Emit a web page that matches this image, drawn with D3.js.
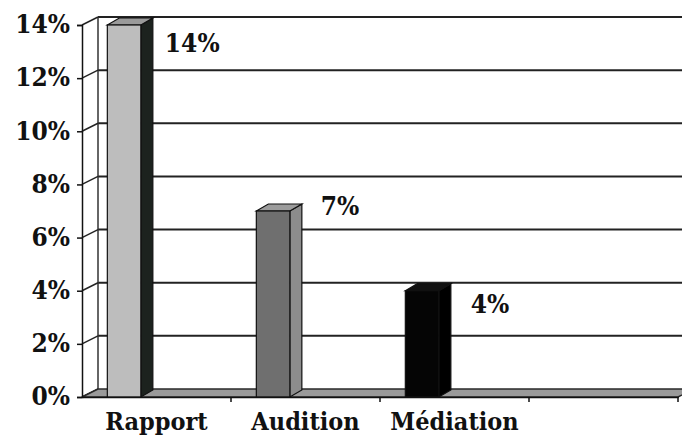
<!DOCTYPE html>
<html>
<head>
<meta charset="utf-8">
<script src="https://cdnjs.cloudflare.com/ajax/libs/d3/7.8.5/d3.min.js"></script>
<style>
    body { margin: 0; background: #fff; }
</style>
</head>
<body>
<div id="chart"></div>
<script>
var categories = ["Rapport", "Audition", "Médiation", ""];
var values = [0.14, 0.07, 0.04];
var tickValues = [0, 0.02, 0.04, 0.06, 0.08, 0.10, 0.12, 0.14];
// label nudges [dx, dy] from the bar's top right corner
var labelNudge = [[12, 27], [19, 4], [20, 22]];

var chart_width = 682;
var chart_height = 437;
var font = "'DejaVu Serif Condensed', 'DejaVu Serif', serif";
var frontColors = ["#bdbdbd", "#6f6f6f", "#050505"];
var sideColors = ["#1c221e", "#8c8c8c", "#000000"];
var topColors = ["#9a9a9a", "#9c9c9c", "#111111"];

// wall depth and bar depth
var wdx = 16, wdy = -8;
var bdx = 12, bdy = -7;

var x = d3.scaleBand()
        .domain(categories)
        .range([82, 678]);
var y = d3.scaleLinear()
        .domain([0, 0.14])
        .range([397, 25]);

var svg = d3.select("#chart")
        .append("svg")
        .attr("width", chart_width)
        .attr("height", chart_height);

function pts(a) {
    return a.map(function (p) { return p.join(","); }).join(" ");
}

var x0 = x.range()[0], x1 = x.range()[1];

//Back wall gridlines
svg.selectAll("line.grid")
        .data(tickValues.slice(1))
        .enter()
        .append("line")
        .attr("class", "grid")
        .attr("x1", x0 + wdx)
        .attr("x2", chart_width)
        .attr("y1", function (d) { return y(d) + wdy; })
        .attr("y2", function (d) { return y(d) + wdy; })
        .attr("stroke", "#222")
        .attr("stroke-width", 2);

//Side wall
svg.append("line")
        .attr("x1", x0 + wdx).attr("x2", x0 + wdx)
        .attr("y1", y(0.14) + wdy).attr("y2", y(0) + wdy)
        .attr("stroke", "#333").attr("stroke-width", 1.5);
svg.selectAll("line.diag")
        .data(tickValues)
        .enter()
        .append("line")
        .attr("class", "diag")
        .attr("x1", x0)
        .attr("x2", x0 + wdx)
        .attr("y1", function (d) { return y(d); })
        .attr("y2", function (d) { return y(d) + wdy; })
        .attr("stroke", "#222")
        .attr("stroke-width", 1.5);

//Floor
svg.append("polygon")
        .attr("points", pts([[x0, y(0)], [x1, y(0)], [x1 + wdx, y(0) + wdy], [x0 + wdx, y(0) + wdy]]))
        .attr("fill", "#9a9a9a")
        .attr("stroke", "#2a2a2a")
        .attr("stroke-width", 1.5);

//Bars
var bars = svg.selectAll("g.bar")
        .data(values)
        .enter()
        .append("g")
        .attr("class", "bar");
function barX(i) { return x(categories[i]) + x.bandwidth() * 0.17; }
var bw = x.bandwidth() * 0.225;
bars.append("polygon")
        .attr("points", function (d, i) {
            var l = barX(i), r = l + bw;
            return pts([[r, y(d)], [r + bdx, y(d) + bdy], [r + bdx, y(0) + bdy], [r, y(0)]]);
        })
        .attr("fill", function (d, i) { return sideColors[i]; })
        .attr("stroke", "#111").attr("stroke-width", 1.2);
bars.append("polygon")
        .attr("points", function (d, i) {
            var l = barX(i), r = l + bw;
            return pts([[l, y(d)], [l + bdx, y(d) + bdy], [r + bdx, y(d) + bdy], [r, y(d)]]);
        })
        .attr("fill", function (d, i) { return topColors[i]; })
        .attr("stroke", "#111").attr("stroke-width", 1.2);
bars.append("rect")
        .attr("x", function (d, i) { return barX(i); })
        .attr("y", function (d) { return y(d); })
        .attr("width", bw)
        .attr("height", function (d) { return y(0) - y(d); })
        .attr("fill", function (d, i) { return frontColors[i]; })
        .attr("stroke", "#111").attr("stroke-width", 1.2);

//Value labels
bars.append("text")
        .attr("x", function (d, i) { return barX(i) + bw + bdx + labelNudge[i][0]; })
        .attr("y", function (d, i) { return y(d) + labelNudge[i][1]; })
        .attr("fill", "#111")
        .style("font-family", font)
        .style("font-weight", "bold")
        .style("font-size", "26px")
        .text(function (d) { return d3.format(".0%")(d); });

//Axes
var yAxis = d3.axisLeft(y)
        .tickValues(tickValues)
        .tickFormat(d3.format(".0%"))
        .tickSize(5)
        .tickPadding(7);
var gy = svg.append("g")
        .attr("transform", "translate(" + x0 + ",0)")
        .call(yAxis);
gy.select(".domain").attr("stroke", "#111").attr("stroke-width", 1.5);
gy.selectAll(".tick line").attr("stroke", "#111").attr("stroke-width", 1.5);
gy.selectAll(".tick text")
        .attr("fill", "#111")
        .attr("dy", "0.3em")
        .style("font-size", "26px")
        .style("font-family", font)
        .style("font-weight", "bold");

var xAxis = d3.axisBottom(x)
        .tickSize(0)
        .tickPadding(15);
var gx = svg.append("g")
        .attr("transform", "translate(0," + y(0) + ")")
        .call(xAxis);
gx.select(".domain").attr("stroke", "#111").attr("stroke-width", 1.5);
gx.selectAll(".tick text")
        .attr("fill", "#111")
        .style("font-size", "25px")
        .style("font-family", font)
        .style("font-weight", "bold");
//boundary ticks between categories
gx.selectAll("line.sep")
        .data(categories)
        .enter()
        .append("line")
        .attr("class", "sep")
        .attr("x1", function (d) { return x(d) + x.bandwidth(); })
        .attr("x2", function (d) { return x(d) + x.bandwidth(); })
        .attr("y1", 0)
        .attr("y2", 5)
        .attr("stroke", "#111")
        .attr("stroke-width", 1.5);
</script>
</body>
</html>
